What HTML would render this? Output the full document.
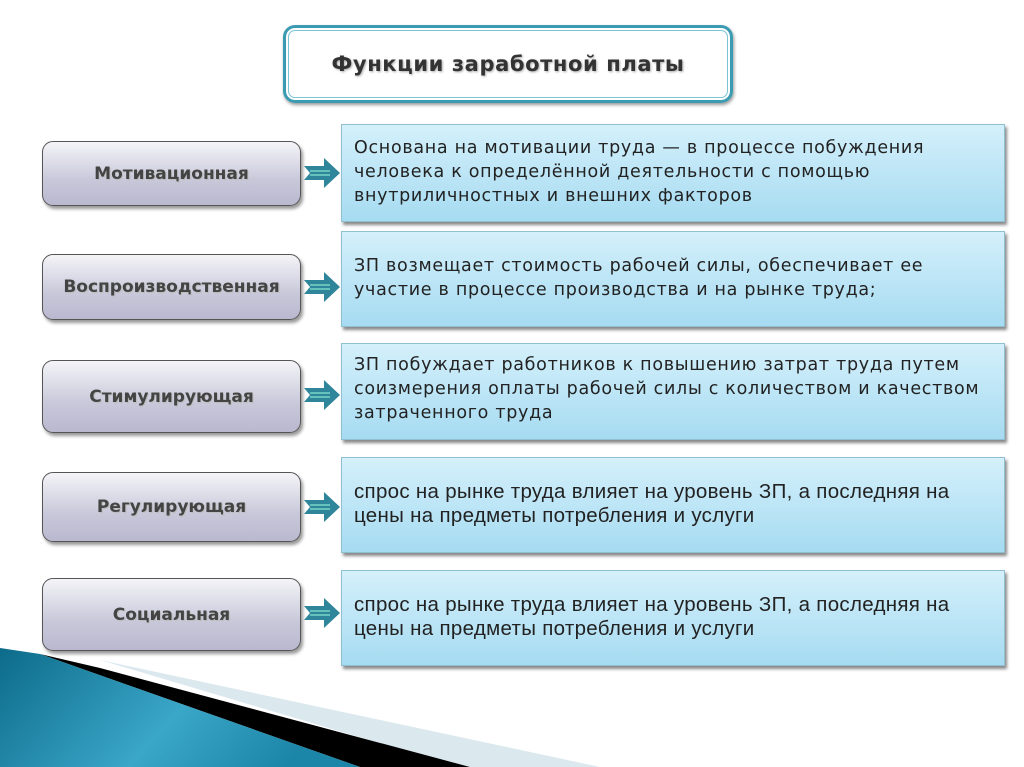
<!DOCTYPE html>
<html><head><meta charset="utf-8"><style>
body{margin:0;width:1024px;height:767px;background:#fff;position:relative;overflow:hidden;font-family:"DejaVu Sans","Liberation Sans",sans-serif}
.t{position:absolute;left:283px;top:25px;width:444px;height:72px;border:3px solid #3b9bb2;border-radius:12px;box-shadow:inset 0 0 0 2px #fff,inset 0 0 0 3px #7cc3d3,1px 2px 3px #999;display:flex;align-items:center;justify-content:center;font-weight:bold;font-size:21px;letter-spacing:0.6px;color:#333;text-shadow:1px 1px 2px #aaa}
.l{position:absolute;left:42px;width:257px;border:1px solid #555;border-radius:11px;background:linear-gradient(#f4f4f8,#c9c8da 60%,#b9b8cf);box-shadow:2px 3px 3px #999;display:flex;align-items:center;justify-content:center;font-weight:bold;font-size:17px;color:#444;text-shadow:1px 1px 1px #bbb}
.r{position:absolute;left:341px;padding:0 0 0 12px;background:linear-gradient(#d4f0fb,#a6dbf1);border:1px solid #8fbfd0;box-shadow:2px 3px 3px #888;font-size:17.5px;line-height:24px;color:#222;box-sizing:border-box;width:664px;white-space:nowrap;letter-spacing:0.7px}
.c{font-family:"Liberation Sans Narrow","Liberation Sans",sans-serif;font-size:20.5px;letter-spacing:0.3px}
.a{position:absolute;left:302px;width:40px;height:30px}
</style></head><body>
<div class="t">Функции заработной платы</div>
<div class="l" style="top:141px;height:63px">Мотивационная</div>
<div class="l" style="top:254px;height:64px">Воспроизводственная</div>
<div class="l" style="top:360px;height:71px">Стимулирующая</div>
<div class="l" style="top:472px;height:68px">Регулирующая</div>
<div class="l" style="top:578px;height:71px">Социальная</div>
<div class="r" style="top:124px;height:98px;padding-top:11px">Основана на мотивации труда — в процессе побуждения<br>человека к определённой деятельности с помощью<br>внутриличностных и внешних факторов</div>
<div class="r" style="top:231px;height:96px;padding-top:22px">ЗП возмещает стоимость рабочей силы, обеспечивает ее<br>участие в процессе производства и на рынке труда;</div>
<div class="r" style="top:343px;height:97px;padding-top:9px">ЗП побуждает работников к повышению затрат труда путем<br>соизмерения оплаты рабочей силы с количеством и качеством<br>затраченного труда</div>
<div class="r c" style="top:457px;height:96px;padding-top:22px">спрос на рынке труда влияет на уровень ЗП, а последняя на<br>цены на предметы потребления и услуги</div>
<div class="r c" style="top:570px;height:96px;padding-top:22px">спрос на рынке труда влияет на уровень ЗП, а последняя на<br>цены на предметы потребления и услуги</div>
<svg class="a" style="top:158px" viewBox="0 0 40 30"><polygon points="2,8 22,8 22,0 38,15 22,30 22,22 2,22 8,15" fill="#2f8599"/><line x1="8" y1="13" x2="28" y2="13" stroke="#9fd"/><line x1="8" y1="17" x2="28" y2="17" stroke="#9fd"/></svg>
<svg class="a" style="top:272px" viewBox="0 0 40 30"><polygon points="2,8 22,8 22,0 38,15 22,30 22,22 2,22 8,15" fill="#2f8599"/><line x1="8" y1="13" x2="28" y2="13" stroke="#9fd"/><line x1="8" y1="17" x2="28" y2="17" stroke="#9fd"/></svg>
<svg class="a" style="top:380px" viewBox="0 0 40 30"><polygon points="2,8 22,8 22,0 38,15 22,30 22,22 2,22 8,15" fill="#2f8599"/><line x1="8" y1="13" x2="28" y2="13" stroke="#9fd"/><line x1="8" y1="17" x2="28" y2="17" stroke="#9fd"/></svg>
<svg class="a" style="top:492px" viewBox="0 0 40 30"><polygon points="2,8 22,8 22,0 38,15 22,30 22,22 2,22 8,15" fill="#2f8599"/><line x1="8" y1="13" x2="28" y2="13" stroke="#9fd"/><line x1="8" y1="17" x2="28" y2="17" stroke="#9fd"/></svg>
<svg class="a" style="top:598px" viewBox="0 0 40 30"><polygon points="2,8 22,8 22,0 38,15 22,30 22,22 2,22 8,15" fill="#2f8599"/><line x1="8" y1="13" x2="28" y2="13" stroke="#9fd"/><line x1="8" y1="17" x2="28" y2="17" stroke="#9fd"/></svg>
<svg style="position:absolute;left:0;top:640px" width="640" height="127" viewBox="0 640 640 127">
<defs><linearGradient id="b" x1="0" y1="0" x2="1" y2="0.3"><stop offset="0" stop-color="#0d6b8a"/><stop offset="0.6" stop-color="#3aa6c8"/><stop offset="1" stop-color="#1c86a8"/></linearGradient></defs>
<polygon points="100,660 600,767 460,767" fill="#dbe9ef"/>
<polygon points="40,654 100,668 470,767 360,767" fill="#000"/>
<polygon points="0,648 40,654 360,767 0,767" fill="url(#b)"/>
</svg>
</body></html>
